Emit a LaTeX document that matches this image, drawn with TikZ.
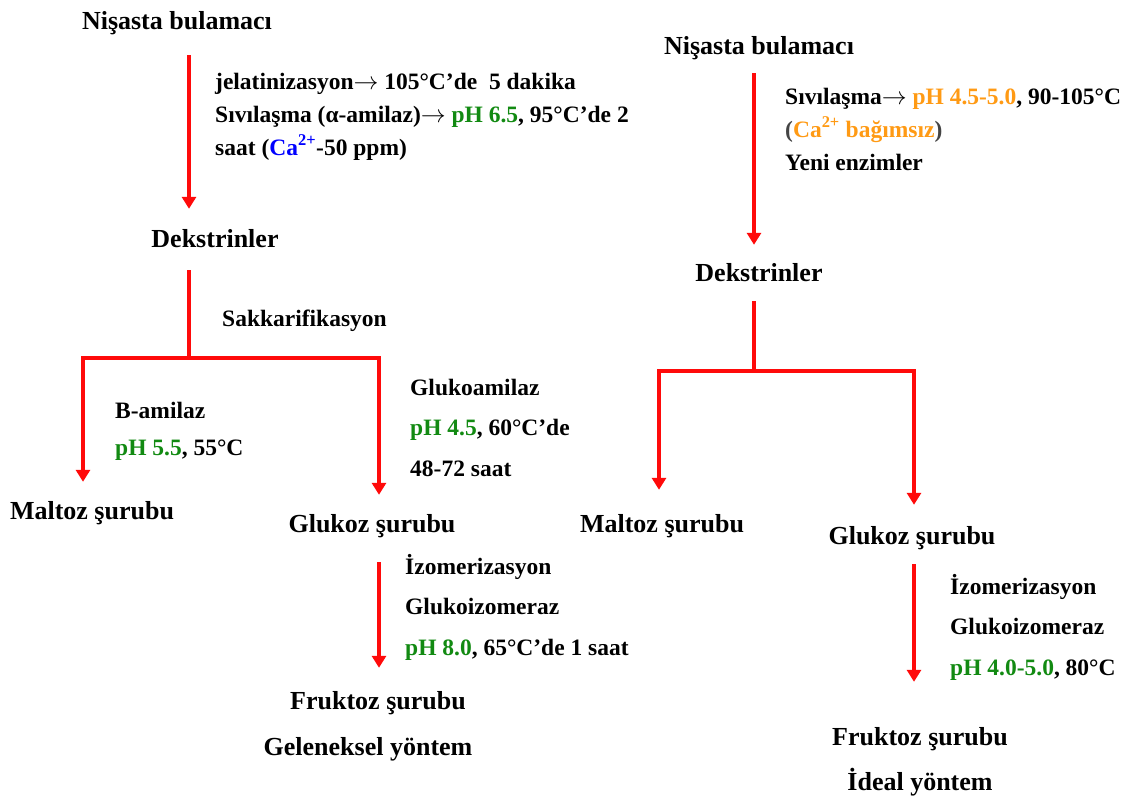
\documentclass[tikz,border=0pt]{standalone}
\usepackage{fontspec}
\setmainfont{Liberation Serif}
\usetikzlibrary{arrows.meta}
\definecolor{flowRed}{HTML}{FF0A0A}
\definecolor{phGreen}{HTML}{128A12}
\definecolor{caBlue}{HTML}{0000FF}
\definecolor{newOrange}{HTML}{FF9A14}
\definecolor{parenGray}{HTML}{444444}
\newcommand{\mainsize}{\fontsize{26}{30}\selectfont}
\newcommand{\notesize}{\fontsize{23.5}{33}\selectfont}
\newcommand{\phg}[1]{\textcolor{phGreen}{#1}}
\newcommand{\cab}[1]{\textcolor{caBlue}{#1}}
\newcommand{\nwo}[1]{\textcolor{newOrange}{#1}}
\newcommand{\tto}{$\rightarrow$}

\begin{document}
\begin{tikzpicture}[x=1pt, y=-1pt, >={Triangle[width=14pt,length=12pt]},
      main/.style={font=\mainsize\bfseries, inner sep=0pt, anchor=base, text height=19pt, text depth=6pt},
      note/.style={font=\notesize\bfseries, inner sep=0pt, anchor=base west, align=left},
      line/.style={draw=flowRed, line width=4pt},
      flow/.style={line, ->}]
    \useasboundingbox (0,0) rectangle (1130,801);
    % geleneksel yontem (left); note blocks sit on their last line
    \node[main] (ln1) at (177,29) {Nişasta bulamacı};
    \node[note] (lliq) at (215,155) {jelatinizasyon\tto{} 105°C’de\ \ 5 dakika\\
      Sıvılaşma (α-amilaz)\tto{} \phg{pH 6.5}, 95°C’de 2\\
      saat (\cab{Ca\textsuperscript{2+}}-50 ppm)};
    \node[main] (ldex) at (215,247) {Dekstrinler};
    \node[note] (lsak) at (222,326) {Sakkarifikasyon};
    \node[note] (lbam) at (115,455) {B-amilaz\\[4pt] \phg{pH 5.5}, 55°C};
    \node[note] (lgam) at (410,476) {Glukoamilaz\\[7.5pt] \phg{pH 4.5}, 60°C’de\\[7.5pt] 48-72 saat};
    \node[main] (lmal) at (92,519) {Maltoz şurubu};
    \node[main] (lglu) at (372,532) {Glukoz şurubu};
    \node[note] (liso) at (405,655) {İzomerizasyon\\[7.5pt] Glukoizomeraz\\[7.5pt] \phg{pH 8.0}, 65°C’de 1 saat};
    \node[main] (lfru) at (378,709) {Fruktoz şurubu};
    \node[main] (lgel) at (368,755) {Geleneksel yöntem};
    \coordinate (lsplit) at (189,358);
    \coordinate (lmaldrop) at (83,358);
    \coordinate (lgludrop) at (379,358);
    \draw[flow, shorten <=20pt, shorten >=19pt] (ln1.south -| lsplit) -- (ldex.north -| lsplit);
    \draw[line, shorten <=17pt] (ldex.south -| lsplit) -- (lsplit);
    \draw[flow, shorten >=18pt] (lsplit) -| (lmal.north -| lmaldrop);
    \draw[flow, shorten >=18pt] (lsplit) -| (lglu.north -| lgludrop);
    \draw[flow, shorten <=24pt, shorten >=22pt] (lglu.south -| lgludrop) -- (lfru.north -| lgludrop);
    % ideal yontem (right)
    \node[main] (rn1) at (759,54) {Nişasta bulamacı};
    \node[note] (rliq) at (785,170) {Sıvılaşma\tto{} \nwo{pH 4.5-5.0}, 90-105°C\\
      \textcolor{parenGray}{(}\nwo{Ca\textsuperscript{2+} bağımsız}\textcolor{parenGray}{)}\\
      Yeni enzimler};
    \node[main] (rdex) at (759,281) {Dekstrinler};
    \node[main] (rmal) at (662,532) {Maltoz şurubu};
    \node[main] (rglu) at (912,544) {Glukoz şurubu};
    \node[note] (riso) at (950,675) {İzomerizasyon\\[7.5pt] Glukoizomeraz\\[7.5pt] \phg{pH 4.0-5.0}, 80°C};
    \node[main] (rfru) at (920,745) {Fruktoz şurubu};
    \node[main] (rideal) at (920,790) {İdeal yöntem};
    \coordinate (rsplit) at (754,371);
    \coordinate (rmaldrop) at (659,371);
    \coordinate (rgludrop) at (914,371);
    \draw[flow, shorten <=13pt, shorten >=17pt] (rn1.south -| rsplit) -- (rdex.north -| rsplit);
    \draw[line, shorten <=14pt] (rdex.south -| rsplit) -- (rsplit);
    \draw[flow, shorten >=23pt] (rsplit) -| (rmal.north -| rmaldrop);
    \draw[flow, shorten >=20pt] (rsplit) -| (rglu.north -| rgludrop);
    \draw[flow, shorten <=14pt, shorten >=44pt] (rglu.south -| rgludrop) -- (rfru.north -| rgludrop);
\end{tikzpicture}
\end{document}
